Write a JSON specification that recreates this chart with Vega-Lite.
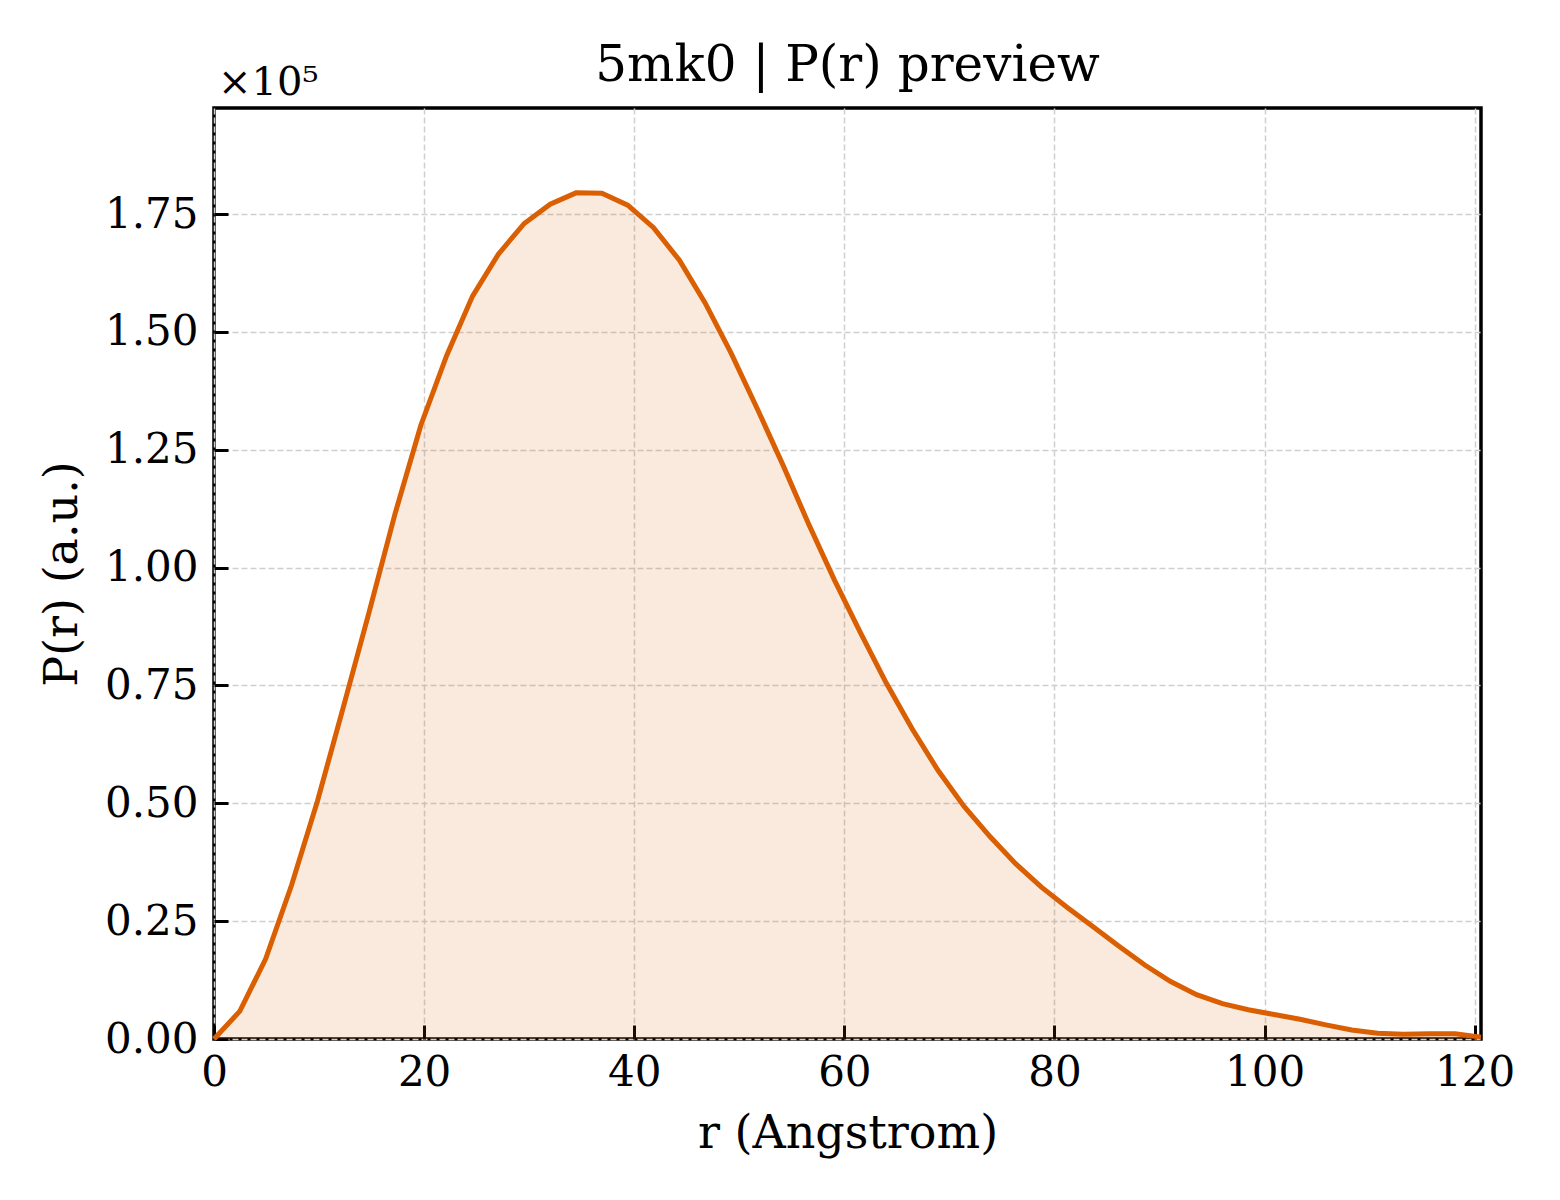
{
  "$schema": "https://vega.github.io/schema/vega-lite/v6.json",
  "width": 1267,
  "height": 931,
  "autosize": {"type": "none"},
  "padding": {"left": 214, "top": 108, "right": 79, "bottom": 161},
  "background": "white",
  "title": {
    "text": "5mk0 | P(r) preview",
    "font": "DejaVu Serif",
    "fontSize": 50,
    "fontWeight": "normal",
    "color": "black",
    "baseline": "alphabetic",
    "offset": 0,
    "dy": 68
  },
  "data": {
    "values": [
      {"r": 0, "pr": 0},
      {"r": 2.46, "pr": 5900},
      {"r": 4.92, "pr": 17000},
      {"r": 7.38, "pr": 32600},
      {"r": 9.85, "pr": 50500},
      {"r": 12.31, "pr": 70400},
      {"r": 14.77, "pr": 90600},
      {"r": 17.23, "pr": 111400},
      {"r": 19.69, "pr": 130200},
      {"r": 22.15, "pr": 145000},
      {"r": 24.61, "pr": 157600},
      {"r": 27.07, "pr": 166500},
      {"r": 29.53, "pr": 173000},
      {"r": 32.00, "pr": 177100},
      {"r": 34.46, "pr": 179500},
      {"r": 36.92, "pr": 179400},
      {"r": 39.38, "pr": 176900},
      {"r": 41.84, "pr": 172100},
      {"r": 44.30, "pr": 165200},
      {"r": 46.76, "pr": 156100},
      {"r": 49.22, "pr": 145500},
      {"r": 51.69, "pr": 133800},
      {"r": 54.15, "pr": 121800},
      {"r": 56.61, "pr": 109200},
      {"r": 59.07, "pr": 97300},
      {"r": 61.53, "pr": 86200},
      {"r": 63.99, "pr": 75500},
      {"r": 66.45, "pr": 65800},
      {"r": 68.91, "pr": 57000},
      {"r": 71.38, "pr": 49400},
      {"r": 73.84, "pr": 43000},
      {"r": 76.30, "pr": 37200},
      {"r": 78.76, "pr": 32200},
      {"r": 81.22, "pr": 27900},
      {"r": 83.68, "pr": 23800},
      {"r": 86.14, "pr": 19700},
      {"r": 88.60, "pr": 15700},
      {"r": 91.06, "pr": 12200},
      {"r": 93.53, "pr": 9400},
      {"r": 95.99, "pr": 7500},
      {"r": 98.45, "pr": 6200},
      {"r": 100.91, "pr": 5200},
      {"r": 103.37, "pr": 4200},
      {"r": 105.83, "pr": 3000},
      {"r": 108.29, "pr": 1900},
      {"r": 110.75, "pr": 1200},
      {"r": 113.22, "pr": 1000},
      {"r": 115.68, "pr": 1100},
      {"r": 118.14, "pr": 1100},
      {"r": 120.60, "pr": 400}
    ]
  },
  "encoding": {
    "x": {
      "field": "r",
      "type": "quantitative",
      "title": "r (Angstrom)",
      "scale": {"domain": [0, 120.6], "nice": false, "zero": false},
      "axis": {"values": [0, 20, 40, 60, 80, 100, 120], "format": "d", "labelPadding": 27, "titlePadding": 18}
    },
    "y": {
      "field": "pr",
      "type": "quantitative",
      "title": "P(r) (a.u.)",
      "scale": {"domain": [0, 197500], "nice": false},
      "axis": {
        "values": [0, 25000, 50000, 75000, 100000, 125000, 150000, 175000],
        "labelExpr": "format(datum.value / 100000, '.2f')",
        "labelPadding": 30,
        "titlePadding": 18
      }
    }
  },
  "layer": [
    {
      "mark": {"type": "area", "color": "#d95f02", "opacity": 0.13}
    },
    {
      "mark": {"type": "line", "color": "#d95f02", "strokeWidth": 5}
    },
    {
      "data": {"values": [{"r": 0, "pr": 197500, "label": "×10⁵"}]},
      "mark": {
        "type": "text",
        "font": "DejaVu Serif",
        "fontSize": 40,
        "align": "left",
        "baseline": "alphabetic",
        "dx": 4,
        "dy": -13,
        "fill": "black"
      },
      "encoding": {
        "text": {"field": "label", "type": "nominal"}
      }
    }
  ],
  "config": {
    "view": {"stroke": "black", "strokeWidth": 3.5},
    "axis": {
      "labelFont": "DejaVu Serif",
      "labelFontSize": 42,
      "labelColor": "black",
      "labelFlush": false,
      "titleFont": "DejaVu Serif",
      "titleFontSize": 46,
      "titleFontWeight": "normal",
      "titleColor": "black",
      "domain": false,
      "tickColor": "black",
      "tickSize": -14,
      "tickWidth": 3,
      "grid": true,
      "gridColor": "#cfcfcf",
      "gridDash": [6, 3],
      "gridWidth": 1.5
    }
  }
}
